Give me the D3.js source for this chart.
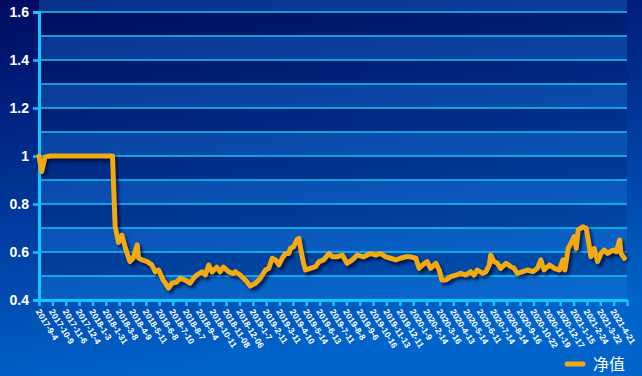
<!DOCTYPE html>
<html lang="zh">
<head>
<meta charset="UTF-8">
<title>净值</title>
<script src="https://cdnjs.cloudflare.com/ajax/libs/d3/7.8.0/d3.min.js"></script>
<style>
    html, body { margin: 0; padding: 0; background: #00309a; }
    svg { display: block; }
</style>
</head>
<body>
<svg id="viz" width="642" height="376"></svg>
<script>
// x axis categories (one label per ~20 trading days)
const dateLabels = ["2017-9-4","2017-10-9","2017-11-6","2017-12-4","2018-1-3","2018-1-31","2018-3-8","2018-4-9",
    "2018-5-11","2018-6-8","2018-7-10","2018-8-7","2018-9-4","2018-10-11","2018-11-08","2018-12-06",
    "2019-1-7","2019-2-11","2019-3-11","2019-4-10","2019-5-14","2019-6-13","2019-7-11","2019-8-8",
    "2019-9-6","2019-10-16","2019-11-13","2019-12-11","2020-1-9","2020-2-14","2020-3-16","2020-4-13",
    "2020-5-14","2020-6-11","2020-7-14","2020-8-14","2020-9-16","2020-10-22","2020-11-19","2020-12-17",
    "2021-1-15","2021-2-24","2021-3-22","2021-4-21"];
const daysPerLabel = 20;

// trading day index and net value
const dayIdx = [0,4,9,16,109,110,114,116,119,124,129,136,141,147,149,154,162,169,174,179,186,194,199,206,211,
    219,226,231,236,244,249,254,259,266,271,276,284,291,294,301,309,316,324,331,339,344,349,354,359,364,369,
    374,376,381,386,389,392,396,399,406,414,419,426,434,439,446,454,461,469,476,486,496,504,511,519,526,534,
    541,549,556,564,569,574,581,586,594,599,603,609,616,624,631,639,646,651,656,664,669,674,676,681,686,691,
    699,706,711,716,724,731,739,746,751,756,764,771,779,784,787,792,796,801,804,807,814,819,822,826,831,836,
    841,846,851,859,864,869,871,876];
const navValues = [1.0,0.935,0.995,1.0,1.0,1.0,0.705,0.68,0.64,0.67,0.62,0.56,0.575,0.63,0.575,0.567,0.56,0.546,
    0.517,0.525,0.483,0.45,0.47,0.475,0.49,0.483,0.47,0.49,0.504,0.517,0.504,0.546,0.517,0.537,0.517,0.537,
    0.517,0.51,0.518,0.504,0.483,0.458,0.47,0.49,0.525,0.532,0.574,0.567,0.546,0.574,0.594,0.594,0.615,0.622,
    0.65,0.657,0.608,0.553,0.525,0.532,0.539,0.56,0.567,0.594,0.58,0.58,0.587,0.553,0.567,0.587,0.58,0.594,
    0.587,0.594,0.58,0.574,0.567,0.574,0.58,0.58,0.574,0.532,0.546,0.56,0.532,0.553,0.525,0.483,0.483,0.497,
    0.504,0.511,0.504,0.518,0.504,0.525,0.511,0.518,0.546,0.587,0.56,0.553,0.532,0.553,0.539,0.532,0.511,
    0.518,0.525,0.518,0.532,0.567,0.525,0.546,0.532,0.525,0.567,0.525,0.615,0.636,0.664,0.615,0.692,0.705,
    0.699,0.65,0.58,0.615,0.56,0.594,0.608,0.594,0.608,0.601,0.65,0.594,0.574];

const yTicks = [0.4, 0.6, 0.8, 1.0, 1.2, 1.4, 1.6];
const seriesName = "净值";

const svg = d3.select('#viz');
const W = 642, H = 376;
const plot = {left: 39, right: 627, top: 12, bottom: 300};

const defs = svg.append('defs');
const bg = defs.append('linearGradient').attr('id', 'bg')
    .attr('x1', 0).attr('y1', 0).attr('x2', 0.25).attr('y2', 1);
bg.append('stop').attr('offset', '0%').attr('stop-color', '#000a60');
bg.append('stop').attr('offset', '55%').attr('stop-color', '#00399c');
bg.append('stop').attr('offset', '100%').attr('stop-color', '#0064ca');

const shadow = defs.append('filter').attr('id', 'blur')
    .attr('x', '-5%').attr('y', '-5%').attr('width', '110%').attr('height', '110%');
shadow.append('feGaussianBlur').attr('stdDeviation', 1.6);

svg.append('rect').attr('width', W).attr('height', H).attr('fill', 'url(#bg)');

const x = d3.scaleLinear()
    .domain([0, dateLabels.length * daysPerLabel])
    .range([plot.left, plot.right]);
const y = d3.scaleLinear().domain([0.4, 1.6]).range([plot.bottom, plot.top]);

// alternating bands every 0.1
const bands = d3.range(0.4, 1.6, 0.1).map(v => +v.toFixed(1));
svg.append('g').selectAll('rect').data(bands).join('rect')
    .attr('x', plot.left).attr('width', plot.right - plot.left)
    .attr('y', d => y(d + 0.1)).attr('height', d => y(d) - y(d + 0.1))
    .attr('fill', (d, i) => i % 2 === 0 ? '#1d7ee0' : '#00113a')
    .attr('opacity', (d, i) => i % 2 === 0 ? 0.32 : 0.14);

// grid lines
svg.append('g').selectAll('line').data(d3.range(0.5, 1.65, 0.1)).join('line')
    .attr('x1', plot.left).attr('x2', plot.right)
    .attr('y1', d => y(d)).attr('y2', d => y(d))
    .attr('stroke', '#16c4f5').attr('stroke-width', 1.3);

// y axis
const yAxis = svg.append('g').attr('transform', `translate(${plot.left},0)`)
    .call(d3.axisLeft(y).tickValues(yTicks).tickSize(6).tickPadding(4)
        .tickFormat(d => d === 1 ? '1' : d3.format('.1f')(d)));
yAxis.select('.domain').attr('stroke', '#12c6ff').attr('stroke-width', 3);
yAxis.selectAll('.tick line').attr('stroke', '#12c6ff').attr('stroke-width', 2.5);
yAxis.selectAll('.tick text').attr('fill', '#fff')
    .style('font', 'bold 14px "Liberation Sans", Arial, sans-serif');

// x axis: category boundaries
const xTickVals = d3.range(dateLabels.length + 1).map(i => i * daysPerLabel);
const xAxis = svg.append('g').attr('transform', `translate(0,${plot.bottom})`)
    .call(d3.axisBottom(x).tickValues(xTickVals).tickSize(6).tickSizeOuter(0).tickFormat(''));
xAxis.select('.domain').attr('stroke', '#12c6ff').attr('stroke-width', 3);
xAxis.selectAll('.tick line').attr('stroke', '#12c6ff').attr('stroke-width', 2.5);

svg.append('g').selectAll('text').data(dateLabels).join('text')
    .attr('transform', (d, i) => `translate(${x(i * daysPerLabel) - 1},${plot.bottom + 10}) rotate(58)`)
    .attr('fill', '#fff')
    .style('font', 'bold 8.6px "Liberation Sans", Arial, sans-serif')
    .attr('dy', '0.35em')
    .text(d => d);

// line
const pts = dayIdx.map((d, i) => [d, navValues[i]]);
const line = d3.line().x(d => x(d[0])).y(d => y(d[1]));

svg.append('path').datum(pts)
    .attr('d', line)
    .attr('transform', 'translate(2.5,3)')
    .attr('fill', 'none').attr('stroke', '#000628').attr('stroke-opacity', 0.65)
    .attr('stroke-width', 5).attr('stroke-linejoin', 'round')
    .attr('filter', 'url(#blur)');
svg.append('path').datum(pts)
    .attr('d', line)
    .attr('fill', 'none').attr('stroke', '#f3aa12')
    .attr('stroke-width', 5).attr('stroke-linejoin', 'round').attr('stroke-linecap', 'round');

// legend
const lg = svg.append('g').attr('transform', 'translate(567,364)');
lg.append('line').attr('x1', 1.5).attr('x2', 18.5).attr('y1', 2).attr('y2', 2)
    .attr('stroke', '#000628').attr('stroke-opacity', 0.6).attr('stroke-width', 5)
    .attr('stroke-linecap', 'round').attr('filter', 'url(#blur)');
lg.append('line').attr('x1', 0).attr('x2', 16).attr('y1', 0).attr('y2', 0)
    .attr('stroke', '#f3aa12').attr('stroke-width', 5).attr('stroke-linecap', 'round');
lg.append('text').attr('x', 26).attr('y', 0).attr('dy', '0.36em')
    .attr('fill', '#fff')
    .style('font', '16px "Noto Sans CJK SC", sans-serif')
    .text(seriesName);
</script>
</body>
</html>
